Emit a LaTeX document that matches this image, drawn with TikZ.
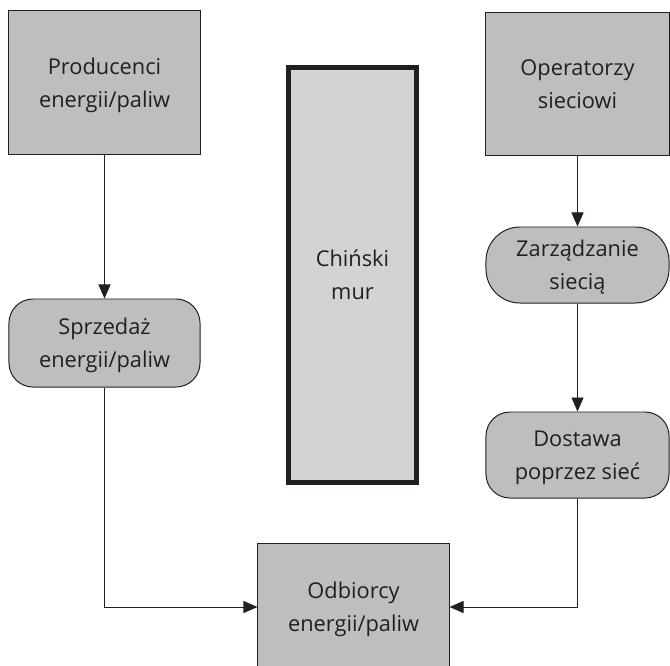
\documentclass[tikz,border=0pt]{standalone}
\usepackage{fontspec}
\setmainfont{Open Sans}
\usetikzlibrary{arrows.meta}
\definecolor{boxgray}{HTML}{BCBEC0}
\definecolor{wallgray}{HTML}{D1D3D4}
\definecolor{ink}{HTML}{231F20}
\begin{document}
\begin{tikzpicture}[x=0.025cm, y=-0.025cm,
  box/.style={draw=ink, fill=boxgray, line width=0.7pt, align=center, text=ink, font=\fontsize{15.5}{23.5}\selectfont, text depth=-0.05cm},
  roundbox/.style={box, rounded corners=0.6cm},
  wallbox/.style={draw=ink, fill=wallgray, line width=3.5pt, align=center, text=ink, font=\fontsize{15.5}{23.5}\selectfont},
  link/.style={draw=ink, line width=0.7pt, -{Triangle[length=0.35cm, width=0.3cm]}}]
\clip (0,0) rectangle (670,665);
\path (104.5,82.5) node (prod) [box, minimum width=4.775cm, minimum height=3.575cm] {Producenci\\energii/paliw};
\path (104.5,343) node (sprz) [roundbox, minimum width=4.775cm, minimum height=2.2cm] {Sprzedaż\\energii/paliw};
\path (577.5,84) node (oper) [box, minimum width=4.575cm, minimum height=3.55cm] {Operatorzy\\sieciowi};
\path (577.5,265) node (zarz) [roundbox, rounded corners=0.85cm, minimum width=4.575cm, minimum height=1.9cm] {Zarządzanie\\siecią};
\path (577.5,455) node (dost) [roundbox, minimum width=4.575cm, minimum height=2.15cm] {Dostawa\\poprzez sieć};
\path (353.5,607) node (odb) [box, minimum width=4.775cm, minimum height=3.2cm] {Odbiorcy\\energii/paliw};
\path (352.5,275) node (mur) [wallbox, minimum width=3.2cm, minimum height=10.375cm] {Chiński\\mur};
\draw[link] (prod) -- (sprz);
\draw[link] (sprz) |- (odb);
\draw[link] (oper) -- (zarz);
\draw[link] (zarz) -- (dost);
\draw[link] (dost) |- (odb);
\end{tikzpicture}
\end{document}
